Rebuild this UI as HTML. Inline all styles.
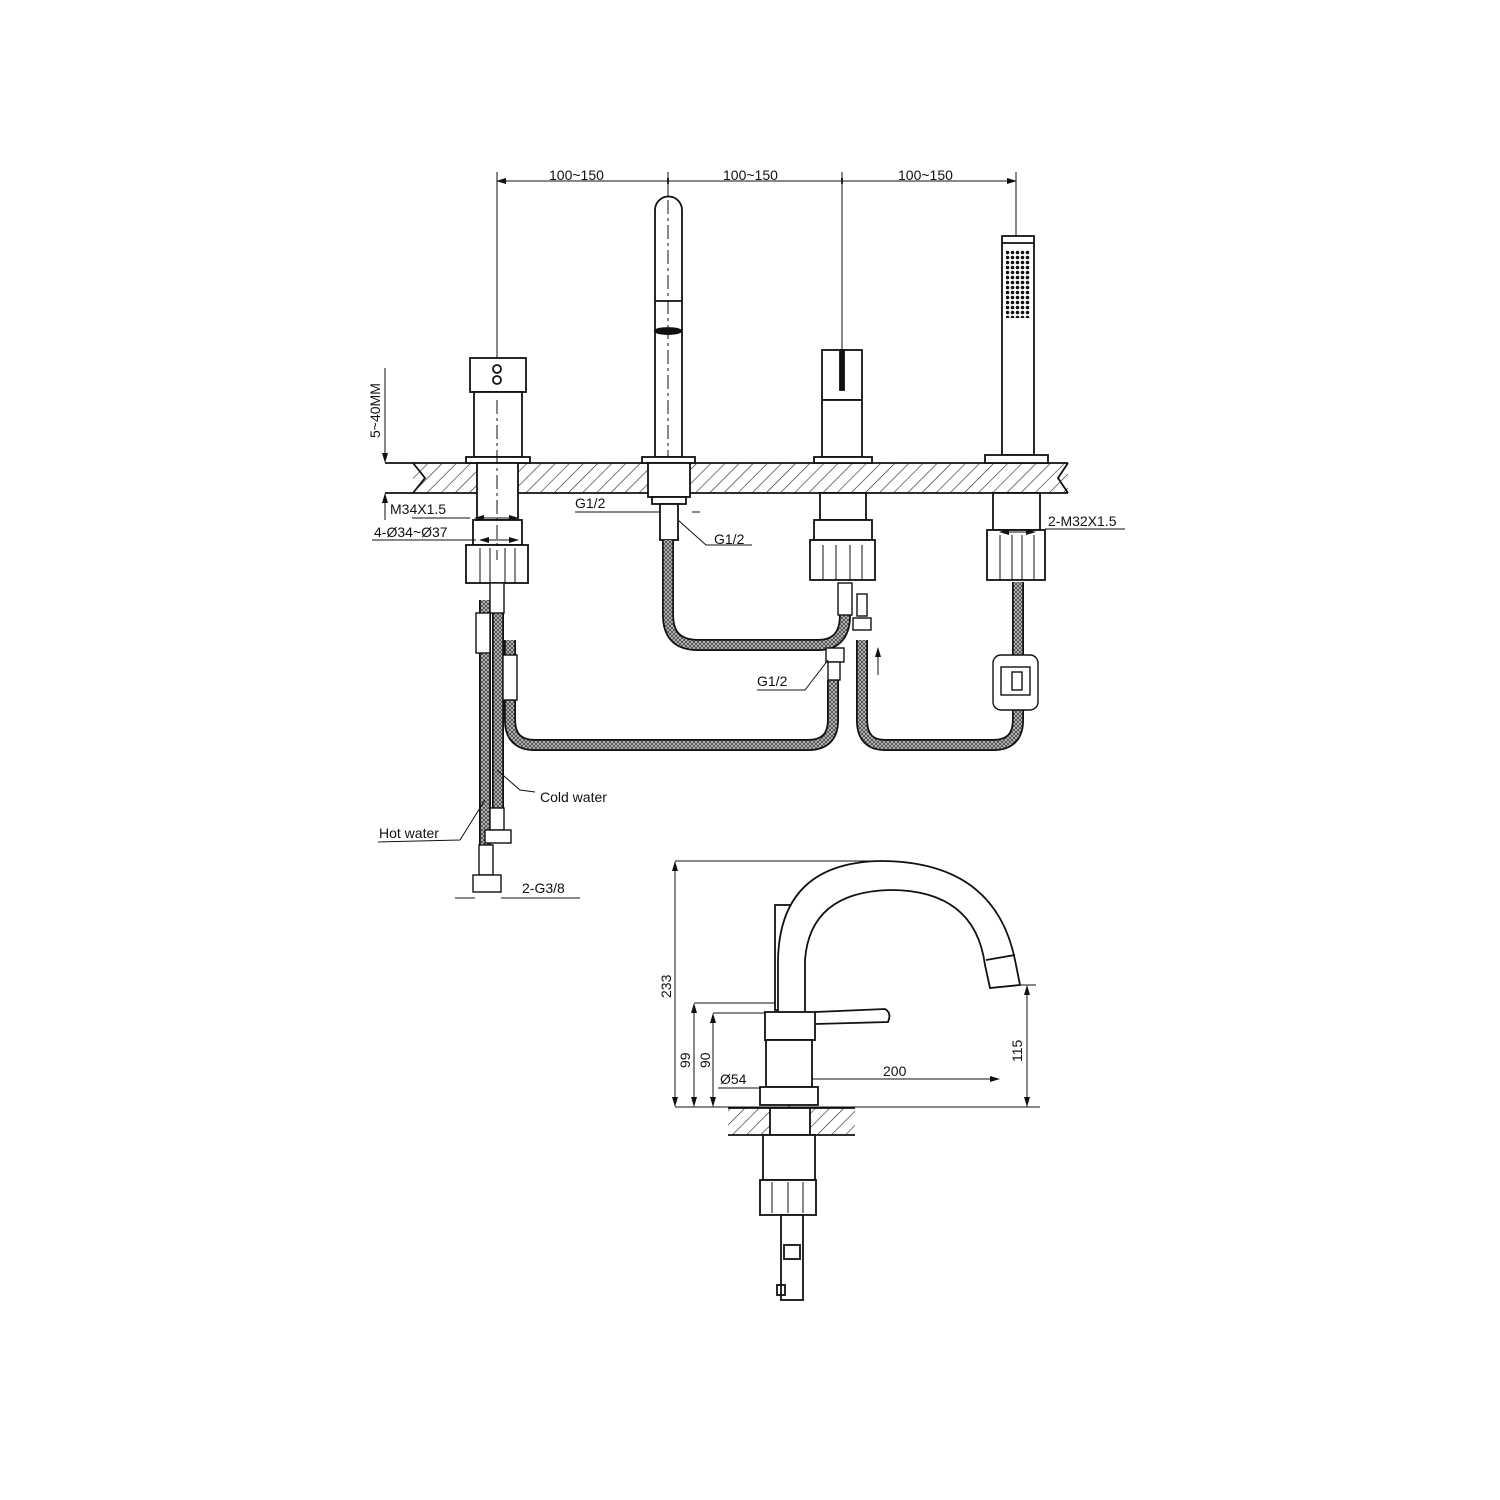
<!DOCTYPE html>
<html><head><meta charset="utf-8"><style>
html,body{margin:0;padding:0;background:#fff}
svg{display:block}
text{font-family:"Liberation Sans",Arial,sans-serif;font-size:14px;fill:#111}
</style></head><body>
<svg width="1500" height="1500" viewBox="0 0 1500 1500" xmlns="http://www.w3.org/2000/svg">
<defs>
<pattern id="hatch" width="10" height="10" patternUnits="userSpaceOnUse" patternTransform="rotate(45)">
<line x1="0" y1="0" x2="0" y2="10" stroke="#222" stroke-width="1.2"/></pattern>
<pattern id="braid" width="4" height="4" patternUnits="userSpaceOnUse">
<rect width="4" height="4" fill="#ccc"/><path d="M0 0L4 4M4 0L0 4" stroke="#444" stroke-width="0.9"/></pattern>
<pattern id="dots" width="5" height="5" patternUnits="userSpaceOnUse"><circle cx="2.5" cy="2.5" r="1.8" fill="#111"/></pattern>
<marker id="ar" markerWidth="10" markerHeight="8" refX="9" refY="4" orient="auto-start-reverse" markerUnits="userSpaceOnUse"><path d="M0 1L10 4L0 7z" fill="#111"/></marker>
</defs>
<g fill="none" stroke="#111" stroke-width="1.8">
<line x1="497" y1="181" x2="1016" y2="181" stroke-width="1" marker-start="url(#ar)" marker-end="url(#ar)"/>
<path d="M668 178L668 184M842 178L842 184" />
<g stroke-width="1">
<line x1="497" y1="172" x2="497" y2="470"/>
<line x1="668" y1="172" x2="668" y2="200"/>
<line x1="842" y1="172" x2="842" y2="350"/>
<line x1="1016" y1="172" x2="1016" y2="238"/>
</g>
<rect x="413" y="463" width="655" height="30" fill="url(#hatch)" stroke="none"/>
<path d="M385 463L1068 463M385 493L1068 493M413 463L425 478L413 493M1068 463L1058 478L1068 493"/>
<line x1="385" y1="368" x2="385" y2="462" stroke-width="1" marker-end="url(#ar)"/>
<line x1="385" y1="520" x2="385" y2="494" stroke-width="1" marker-end="url(#ar)"/>

<g fill="#fff">
<rect x="470" y="358" width="56" height="34"/>
<rect x="474" y="392" width="48" height="65"/>
<rect x="466" y="457" width="64" height="6"/>
<rect x="477" y="463" width="41" height="57"/>
<rect x="473" y="520" width="49" height="25"/>
<rect x="466" y="545" width="62" height="38"/>
</g>
<circle cx="497" cy="369" r="4"/><circle cx="497" cy="380" r="4"/>
<path d="M480 548V583M490 548V583M505 548V583M515 548V583" stroke-width="1"/>
<line x1="497" y1="400" x2="497" y2="560" stroke-width="1" stroke-dasharray="14 4 3 4"/>

<path d="M655 457V210A13.5 13.5 0 0 1 682 210V457Z" fill="#fff"/>
<line x1="655" y1="301" x2="682" y2="301"/>
<ellipse cx="668" cy="331" rx="13" ry="3" fill="#111"/>
<line x1="668" y1="200" x2="668" y2="540" stroke-width="1" stroke-dasharray="14 4 3 4"/>
<g fill="#fff">
<rect x="642" y="457" width="53" height="6"/>
<rect x="648" y="463" width="42" height="34"/>
<rect x="652" y="497" width="34" height="7"/>
<rect x="660" y="504" width="18" height="36"/>
</g>

<g fill="#fff">
<rect x="822" y="350" width="40" height="50"/>
<rect x="822" y="400" width="40" height="57"/>
<rect x="814" y="457" width="58" height="6"/>
<rect x="820" y="493" width="46" height="27"/>
<rect x="814" y="520" width="58" height="20"/>
<rect x="810" y="540" width="65" height="40"/>
</g>
<rect x="840" y="350" width="4" height="40" fill="#111"/>
<path d="M823 545V580M836 545V580M850 545V580M862 545V580" stroke-width="1"/>

<g fill="#fff">
<rect x="1002" y="236" width="32" height="219"/>
<rect x="985" y="455" width="63" height="8"/>
<rect x="993" y="493" width="47" height="37"/>
<rect x="987" y="530" width="58" height="50"/>
</g>
<line x1="1002" y1="243" x2="1034" y2="243"/>
<rect x="1006" y="250" width="24" height="68" fill="url(#dots)" stroke="none"/>
<path d="M1000 535V580M1012 535V580M1022 535V580M1034 535V580" stroke-width="1"/>

<g stroke="#111" stroke-width="12" stroke-linejoin="round">
<path d="M668 540L668 615Q668 645 698 645L818 645Q845 645 845 615L845 585"/>
<path d="M510 640L510 720Q510 745 535 745L808 745Q833 745 833 720L833 680"/>
<path d="M1018 582L1018 655M1018 710L1018 720Q1018 745 993 745L885 745Q862 745 862 720L862 640"/>
<path d="M485 600L485 878"/>
<path d="M498 600L498 830"/>
</g>
<g stroke="url(#braid)" stroke-width="8.5" stroke-linejoin="round">
<path d="M668 540L668 615Q668 645 698 645L818 645Q845 645 845 615L845 585"/>
<path d="M510 640L510 720Q510 745 535 745L808 745Q833 745 833 720L833 680"/>
<path d="M1018 582L1018 655M1018 710L1018 720Q1018 745 993 745L885 745Q862 745 862 720L862 640"/>
<path d="M485 600L485 878"/>
<path d="M498 600L498 830"/>
</g>
<g fill="#fff" stroke-width="1.4">
<rect x="490" y="583" width="14" height="30"/>
<rect x="476" y="613" width="14" height="40"/>
<rect x="503" y="655" width="14" height="45"/>
<rect x="838" y="583" width="14" height="32"/>
<rect x="857" y="594" width="10" height="22"/>
<rect x="853" y="618" width="18" height="12"/>
<rect x="826" y="648" width="18" height="14"/>
<rect x="828" y="662" width="12" height="18"/>
<rect x="490" y="808" width="14" height="22"/>
<rect x="485" y="830" width="26" height="13"/>
<rect x="479" y="845" width="14" height="30"/>
<rect x="473" y="875" width="28" height="17"/>
<rect x="993" y="655" width="45" height="55" rx="8"/>
<rect x="1001" y="667" width="29" height="28"/>
<rect x="1012" y="672" width="10" height="18"/>
</g>
<line x1="878" y1="648" x2="878" y2="675" stroke-width="1" marker-start="url(#ar)"/>

<g stroke-width="1">
<line x1="412" y1="518" x2="470" y2="518"/>
<path d="M475 518H518" marker-start="url(#ar)" marker-end="url(#ar)"/>
<line x1="372" y1="540" x2="476" y2="540"/>
<path d="M480 540H518" marker-start="url(#ar)" marker-end="url(#ar)"/>
<line x1="575" y1="512" x2="655" y2="512"/>
<path d="M650 512H660M692 512H700"/>
<path d="M678 520L706 545L752 545"/>
<path d="M1045 529H1125"/>
<path d="M1000 532H1035" marker-start="url(#ar)" marker-end="url(#ar)"/>
<path d="M828 660L805 690L757 690"/>
<path d="M497 770L520 790L535 792"/>
<path d="M485 800L460 840L378 842"/>
<path d="M455 898H475M501 898H580"/>
</g>
</g>
<text x="549" y="180">100~150</text>
<text x="723" y="180">100~150</text>
<text x="898" y="180">100~150</text>
<text transform="translate(380 438) rotate(-90)" font-size="13">5~40MM</text>
<text x="390" y="514">M34X1.5</text>
<text x="374" y="537">4-Ø34~Ø37</text>
<text x="575" y="508">G1/2</text>
<text x="714" y="544">G1/2</text>
<text x="1048" y="526">2-M32X1.5</text>
<text x="757" y="686">G1/2</text>
<text x="540" y="802">Cold water</text>
<text x="379" y="838">Hot water</text>
<text x="522" y="893">2-G3/8</text>

<g fill="none" stroke="#111" stroke-width="1.8">
<g stroke-width="1">
<path d="M675 861H885M675 1107H1040M694 1003H775M713 1013H770M995 985H1036"/>
<path d="M675 862V1106" marker-start="url(#ar)" marker-end="url(#ar)"/>
<path d="M694 1004V1106" marker-start="url(#ar)" marker-end="url(#ar)"/>
<path d="M713 1014V1106" marker-start="url(#ar)" marker-end="url(#ar)"/>
<path d="M1027 986V1106" marker-start="url(#ar)" marker-end="url(#ar)"/>
<path d="M792 1079H999" marker-start="url(#ar)" marker-end="url(#ar)"/>
<path d="M718 1088H818"/>
<line x1="789" y1="1030" x2="789" y2="1200" stroke-dasharray="14 4 3 4"/>
</g>
<rect x="775" y="905" width="25" height="105" fill="#fff"/>
<path d="M778 1012V960Q780 862 882 861Q995 862 1015 960L1020 985L990 988L985 965Q975 890 890 890Q810 892 805 960V1012" fill="#fff"/>
<path d="M986 960L1015 955"/>
<path d="M815 1012L885 1009Q892 1013 888 1022L815 1024"/>
<rect x="765" y="1012" width="50" height="28" fill="#fff"/>
<rect x="766" y="1040" width="46" height="47" fill="#fff"/>
<rect x="760" y="1087" width="58" height="18" fill="#fff"/>
<rect x="728" y="1108" width="127" height="27" fill="url(#hatch)" stroke="none"/>
<path d="M728 1108H855M728 1135H855"/>
<rect x="770" y="1108" width="40" height="27" fill="#fff"/>
<rect x="763" y="1135" width="52" height="45" fill="#fff"/>
<rect x="760" y="1180" width="56" height="35" fill="#fff"/>
<path d="M772 1182V1213M788 1182V1213M803 1182V1213" stroke-width="1"/>
<rect x="781" y="1215" width="22" height="85" fill="#fff"/>
<rect x="784" y="1245" width="16" height="14"/>
<rect x="777" y="1285" width="8" height="10"/>
</g>
<text transform="translate(671 998) rotate(-90)">233</text>
<text transform="translate(690 1068) rotate(-90)">99</text>
<text transform="translate(710 1068) rotate(-90)">90</text>
<text transform="translate(1022 1062) rotate(-90)">115</text>
<text x="883" y="1076">200</text>
<text x="720" y="1084">Ø54</text>
</svg>
</body></html>
